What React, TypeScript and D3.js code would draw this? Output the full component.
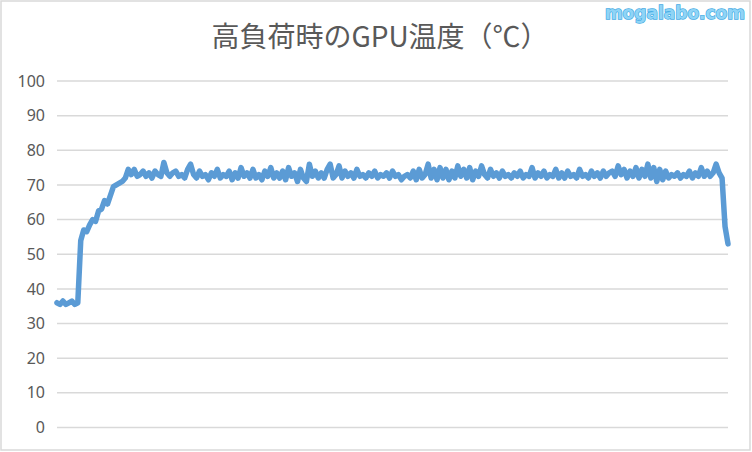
import React from "react";
import * as d3 from "d3";

const title = "高負荷時のGPU温度（℃）";
const watermark = "mogalabo.com";
const yTicks = [0, 10, 20, 30, 40, 50, 60, 70, 80, 90, 100];

// GPU temperature samples (°C), evenly spaced in time
const idleTemps: number[] = [36, 35.5, 36.5, 35.5, 36, 36.5, 35.5, 36];
const rampTemps: number[] = [
  54, 57, 56.5, 58.5, 60, 59.5, 62.5, 63, 65.5, 64.5,
  67, 69.5, 70, 70.5, 71, 72, 74.5, 73, 74.5, 72.5,
];
const loadTemps: number[] = [
  73, 74, 72.5, 73.5, 72, 74, 73, 72.5, 76.5, 73.5,
  72.5, 73.5, 74, 72.5, 73, 72, 74.5, 76, 73, 72,
  74, 72.5, 73, 71.5, 73.5, 72.5, 74.5, 72, 73, 72.5,
  74, 71.5, 73.5, 72, 75, 72.5, 73.5, 72, 74.5, 72,
  73, 71.5, 74, 72.5, 75, 72, 73.5, 72, 74, 71.5,
  75, 72.5, 73.5, 71, 74.5, 72, 71, 76, 72.5, 74,
  72, 73.5, 72, 74.5, 76, 72, 73, 75.5, 72, 74,
  72.5, 73.5, 72, 74.5, 72.5, 73, 72, 73.5, 72.5, 74,
  72, 73, 72.5, 73.5, 72, 74, 72.5, 73, 71.5, 72.5,
  73, 72, 74, 71.5, 74.5, 72, 73, 76, 72, 74.5,
  71.5, 75, 72, 74.5, 71.5, 74, 72, 75.5, 72.5, 74.5,
  72, 75, 71.5, 74, 72.5, 75.5, 73, 72, 74.5, 72.5,
  73.5, 72, 74, 72.5, 73, 72, 73.5, 72.5, 74, 72,
  73, 72.5, 75, 72, 73.5, 72.5, 74, 72, 73, 72.5,
  74.5, 72, 73.5, 72, 74, 72.5, 73, 72, 74.5, 72.5,
  73, 72, 74, 72.5, 73.5, 72, 74, 72.5, 73.5, 74,
  72.5, 75.5, 73, 74.5, 72, 74, 72.5, 75, 72, 74.5,
  72.5, 76, 72, 75, 71, 74.5, 71.5, 74, 72, 73,
  72.5, 73.5, 72, 73, 72.5, 74, 72, 73.5, 72.5, 75,
  72.5, 74, 72.5, 73.5, 76, 73.5,
];
const coolTemps: number[] = [72, 58, 53];
const temps: number[] = [...idleTemps, ...rampTemps, ...loadTemps, ...coolTemps];

export default function App() {
  const W = 752;
  const H = 452;
  const x = d3.scaleLinear().domain([0, temps.length - 1]).range([57, 728]);
  const y = d3.scaleLinear().domain([0, 100]).range([427.5, 81]);
  const line = d3
    .line<number>()
    .x((_, i) => x(i))
    .y((d) => y(d));

  return (
    <svg
      width={W}
      height={H}
      viewBox={`0 0 ${W} ${H}`}
      style={{ position: "absolute", left: 0, top: 0, background: "#fff" }}
    >
      <rect x={0} y={0} width={W} height={H} fill="#fff" />
      <rect x={1} y={1} width={749} height={449} fill="none" stroke="#d9d9d9" strokeWidth={1.5} />
      {yTicks.map((t) => (
        <g key={t}>
          <line x1={57} x2={728} y1={y(t)} y2={y(t)} stroke="#d9d9d9" strokeWidth={1.5} />
          <text
            x={45}
            y={y(t)}
            dy="0.35em"
            textAnchor="end"
            fontFamily="'Noto Sans', sans-serif"
            fontSize={16}
            fill="#595959"
          >
            {t}
          </text>
        </g>
      ))}
      <path
        d={line(temps) ?? ""}
        fill="none"
        stroke="#5b9bd5"
        strokeWidth={5.5}
        strokeLinejoin="round"
        strokeLinecap="round"
      />
      <text
        x={380}
        y={47}
        textAnchor="middle"
        fontFamily="'Noto Sans CJK JP', sans-serif"
        fontSize={28}
        fill="#595959"
      >
        {title}
      </text>
      <text
        x={745}
        y={19}
        textAnchor="end"
        fontFamily="'DejaVu Sans', sans-serif"
        fontWeight="bold"
        fontSize={17}
        fill="#8fd4f6"
        stroke="#48ace4"
        strokeWidth={1.4}
        paintOrder="stroke"
      >
        {watermark}
      </text>
    </svg>
  );
}
